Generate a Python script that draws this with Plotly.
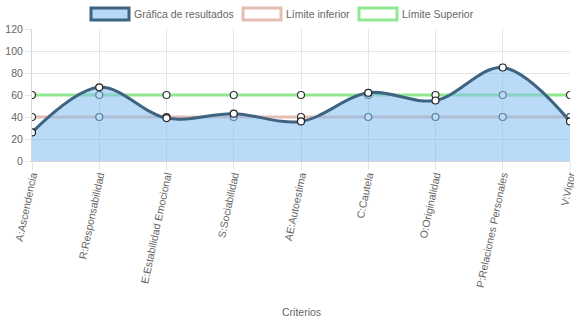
import plotly.graph_objects as go

categories = ["A:Ascendencia", "R:Responsabilidad", "E:Estabilidad Emocional",
              "S:Sociabilidad", "AE:Autoestima", "C:Cautela", "O:Originalidad",
              "P:Relaciones Personales", "V:Vigor"]
resultados = [26, 67, 39, 43, 36, 62, 55, 85, 36]
limite_inferior = [40, 40, 40, 40, 40, 40, 40, 40, 40]
limite_superior = [60, 60, 60, 60, 60, 60, 60, 60, 60]

series_names = ["Gráfica de resultados", "Límite inferior", "Límite Superior"]

FONT = "Liberation Sans, Arial, sans-serif"
FS = 10.5
W, H = 574, 323
L, R, T, B = 32, 4, 29, 162
PW, PH = W - L - R, H - T - B

C_RES_LINE = "#3e6482"
C_RES_FILL = "rgba(130,190,240,0.55)"
C_INF = "rgba(228,190,178,1)"
C_SUP = "rgba(144,232,144,1)"

fig = go.Figure()

def limit_traces(name, vals, color):
    fig.add_trace(go.Scatter(
        x=categories, y=vals, name=name, mode="lines", showlegend=False,
        line=dict(color=color, width=3),
    ))
    fig.add_trace(go.Scatter(
        x=categories, y=vals, mode="markers", showlegend=False,
        marker=dict(color="white", size=7, line=dict(color="#333", width=1.2)),
    ))

limit_traces(series_names[1], limite_inferior, C_INF)
limit_traces(series_names[2], limite_superior, C_SUP)

fig.add_trace(go.Scatter(
    x=categories, y=resultados, name=series_names[0], mode="lines", showlegend=False,
    line=dict(color=C_RES_LINE, width=3, shape="spline", smoothing=1.0),
    fill="tozeroy", fillcolor=C_RES_FILL,
))
fig.add_trace(go.Scatter(
    x=categories, y=resultados, mode="markers", showlegend=False,
    marker=dict(color="white", size=7, line=dict(color="#222", width=1.2)),
))

def px_x(px):
    return (px - L) / PW

def px_y(py):
    return (H - B - py) / PH

# manual Chart.js-style legend (boxes + labels)
legend_items = [
    (series_names[0], 91, 129, "rgba(185,218,247,1)", C_RES_LINE),
    (series_names[1], 243, 281, "white", C_INF),
    (series_names[2], 359, 397, "white", C_SUP),
]
shapes = []
annotations = []
for name, x0, x1, fillc, linec in legend_items:
    shapes.append(dict(type="rect", xref="paper", yref="paper",
                       x0=px_x(x0), x1=px_x(x1), y0=px_y(20), y1=px_y(8),
                       fillcolor=fillc, line=dict(color=linec, width=3)))
    annotations.append(dict(text=name, xref="paper", yref="paper",
                            x=px_x(x1 + 3), y=px_y(14), xanchor="left", yanchor="middle",
                            showarrow=False, font=dict(size=FS, color="#666", family=FONT)))

annotations.append(dict(text="Criterios", xref="paper", yref="paper",
                        x=0.5, y=px_y(312), xanchor="center", yanchor="middle",
                        showarrow=False, font=dict(size=FS, color="#666", family=FONT)))

fig.update_layout(
    width=W, height=H,
    margin=dict(l=L, r=R, t=T, b=B),
    paper_bgcolor="white", plot_bgcolor="white",
    font=dict(family=FONT, size=FS, color="#666"),
    showlegend=False,
    shapes=shapes, annotations=annotations,
    xaxis=dict(
        type="category", tickangle=-78, showgrid=True, gridcolor="#e5e5e5",
        ticks="outside", ticklen=8, tickcolor="#e5e5e5", automargin=False,
        ticklabelstandoff=-5,
        showline=True, linecolor="#d5d5d5",
        tickfont=dict(size=FS, color="#666"),
        range=[0, len(categories) - 1],
    ),
    yaxis=dict(
        range=[0, 120], dtick=20, showgrid=True, gridcolor="#e5e5e5",
        ticks="outside", ticklen=6, tickcolor="#e5e5e5", automargin=False,
        showline=True, linecolor="#d5d5d5", zeroline=False,
        tickfont=dict(size=FS, color="#666"),
    ),
)

fig.write_html("out.html")
